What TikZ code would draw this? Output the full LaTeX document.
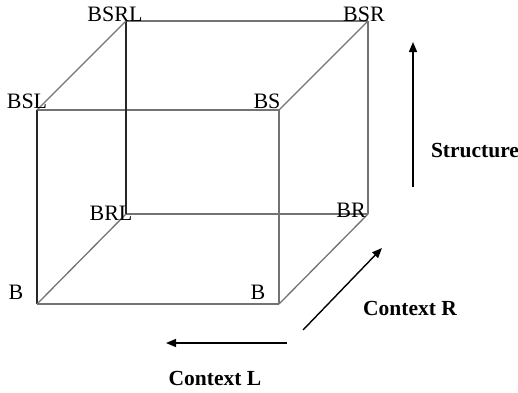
\documentclass[tikz,border=0pt]{standalone}
\usepackage{fontspec}
\setmainfont{Liberation Serif}
\usetikzlibrary{arrows.meta}
\begin{document}
\begin{tikzpicture}[x=1pt,y=-1pt,
  edge/.style={draw=black!55, line width=1.3pt},
  darkedge/.style={draw=black!85, line width=1.3pt},
  lbl/.style={font=\fontsize{22}{22}\selectfont, inner sep=0pt},
  axis/.style={draw=black, line width=1.4pt, -{Triangle[length=10pt,width=8pt]}},
  axlbl/.style={font=\bfseries\fontsize{21.5}{21.5}\selectfont, inner sep=0pt}]
\useasboundingbox (0,0) rectangle (518,392);
% cube corners
\coordinate (fsl) at (37,110);
\coordinate (fs)  at (279,110);
\coordinate (fb)  at (37,304);
\coordinate (fbr) at (279,304);
\coordinate (bsrl) at (126,21);
\coordinate (bsr)  at (368,21);
\coordinate (brl)  at (126,214);
\coordinate (br)   at (368,214);
% front face
\draw[edge] (fsl) -- (fs);
\draw[edge] (fb) -- (fbr);
\draw[edge] (fs) -- (fbr);
\draw[darkedge] (fsl) -- (fb);
% back face
\draw[edge] (bsrl) -- (bsr);
\draw[edge] (brl) -- (br);
\draw[edge] (bsr) -- (br);
\draw[darkedge] (bsrl) -- (brl);
% depth edges
\draw[edge] (fsl) -- (bsrl);
\draw[edge] (fs) -- (bsr);
\draw[edge] (fb) -- (brl);
\draw[edge] (fbr) -- (br);
% labels
\node[lbl] (lbsrl) at (115,14) {BSRL};
\node[lbl] (lbsr)  at (364,14) {BSR};
\node[lbl] (lbsl)  at (27,101) {BSL};
\node[lbl] (lbs)   at (267,101) {BS};
\node[lbl] (lbrl)  at (111,213) {BRL};
\node[lbl] (lbr)   at (351,210) {BR};
\node[lbl] (lb1)   at (16,292) {B};
\node[lbl] (lb2)   at (258,292) {B};
% axes
\coordinate (s0) at (413,187);
\coordinate (s1) at (413,42);
\draw[axis] (s0) -- (s1);
\node[axlbl] (ls) at (475,151) {Structure};
\coordinate (r0) at (303,330);
\coordinate (r1) at (382,248);
\draw[axis] (r0) -- (r1);
\node[axlbl] (lr) at (410,308) {Context R};
\coordinate (l0) at (287,343);
\coordinate (l1) at (166,343);
\draw[axis] (l0) -- (l1);
\node[axlbl] (ll) at (215,378) {Context L};
\end{tikzpicture}
\end{document}
